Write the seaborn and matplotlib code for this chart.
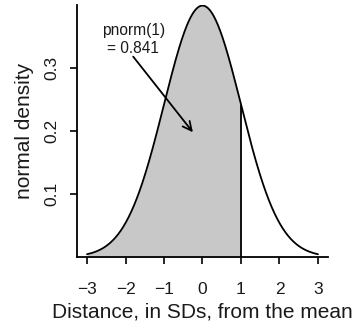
import numpy as np
import pandas as pd
import matplotlib
matplotlib.use("Agg")
import matplotlib.pyplot as plt
import seaborn as sns

# Chart content
mu = 0.0
sd = 1.0
x_range = [-3, 3]
cutoff = 1.0
x_ticks = [-3, -2, -1, 0, 1, 2, 3]
x_tick_labels = ["\u22123", "\u22122", "\u22121", "0", "1", "2", "3"]
y_ticks = [0.1, 0.2, 0.3]
y_tick_labels = ["0.1", "0.2", "0.3"]
annot_text = "pnorm(1)\n= 0.841"
annot_text_xy = (-1.8, 0.345)
arrow_start = (-1.8, 0.318)
arrow_end = (-0.25, 0.198)
xlabel = "Distance, in SDs, from the mean"
ylabel = "normal density"

x = np.linspace(x_range[0], x_range[1], 601)
dens = np.exp(-0.5 * ((x - mu) / sd) ** 2) / (sd * np.sqrt(2 * np.pi))
df = pd.DataFrame({"x": x, "density": dens})

sns.set_theme(style="ticks")
plt.rcParams["font.family"] = ["Liberation Sans", "DejaVu Sans"]
plt.rcParams["text.color"] = "#1a1a1a"
plt.rcParams["xtick.labelcolor"] = "#1a1a1a"
plt.rcParams["ytick.labelcolor"] = "#1a1a1a"
plt.rcParams["axes.labelcolor"] = "#1a1a1a"

fig = plt.figure(figsize=(3.56, 3.29), dpi=100)
ax = fig.add_axes([0.2163, 0.2188, 0.705, 0.7662])

mask = df["x"] <= cutoff
ax.fill_between(df["x"][mask], 0, df["density"][mask], color="#c8c8c8", lw=0)
sns.lineplot(data=df, x="x", y="density", ax=ax, color="black", lw=1.3)
ax.vlines(cutoff, 0, np.exp(-0.5 * ((cutoff - mu) / sd) ** 2) / (sd * np.sqrt(2 * np.pi)),
          color="black", lw=1.3)

ax.set_xlim(-3.26, 3.26)
ax.set_ylim(0, 0.40)
ax.set_xticks(x_ticks)
ax.set_xticklabels(x_tick_labels, fontsize=12.5)
ax.set_yticks(y_ticks)
ax.set_yticklabels(y_tick_labels, fontsize=12.5, rotation=90, va="center")
ax.tick_params(axis="both", length=5, width=1.2, color="black")
ax.tick_params(axis="x", pad=13)
ax.tick_params(axis="y", pad=8)
for s in ["top", "right"]:
    ax.spines[s].set_visible(False)
for s in ["left", "bottom"]:
    ax.spines[s].set_color("black")
    ax.spines[s].set_linewidth(1.3)
ax.set_xlabel(xlabel, fontsize=15, labelpad=4)
ax.set_ylabel(ylabel, fontsize=15, labelpad=7)

ax.text(annot_text_xy[0], annot_text_xy[1], annot_text, ha="center", va="center",
        fontsize=11.2, linespacing=1.2)
ax.annotate("", xy=arrow_end, xytext=arrow_start,
            arrowprops=dict(arrowstyle="->", color="black", lw=1.3,
                            shrinkA=0, shrinkB=0, mutation_scale=16))

fig.savefig("out.png", dpi=100)
